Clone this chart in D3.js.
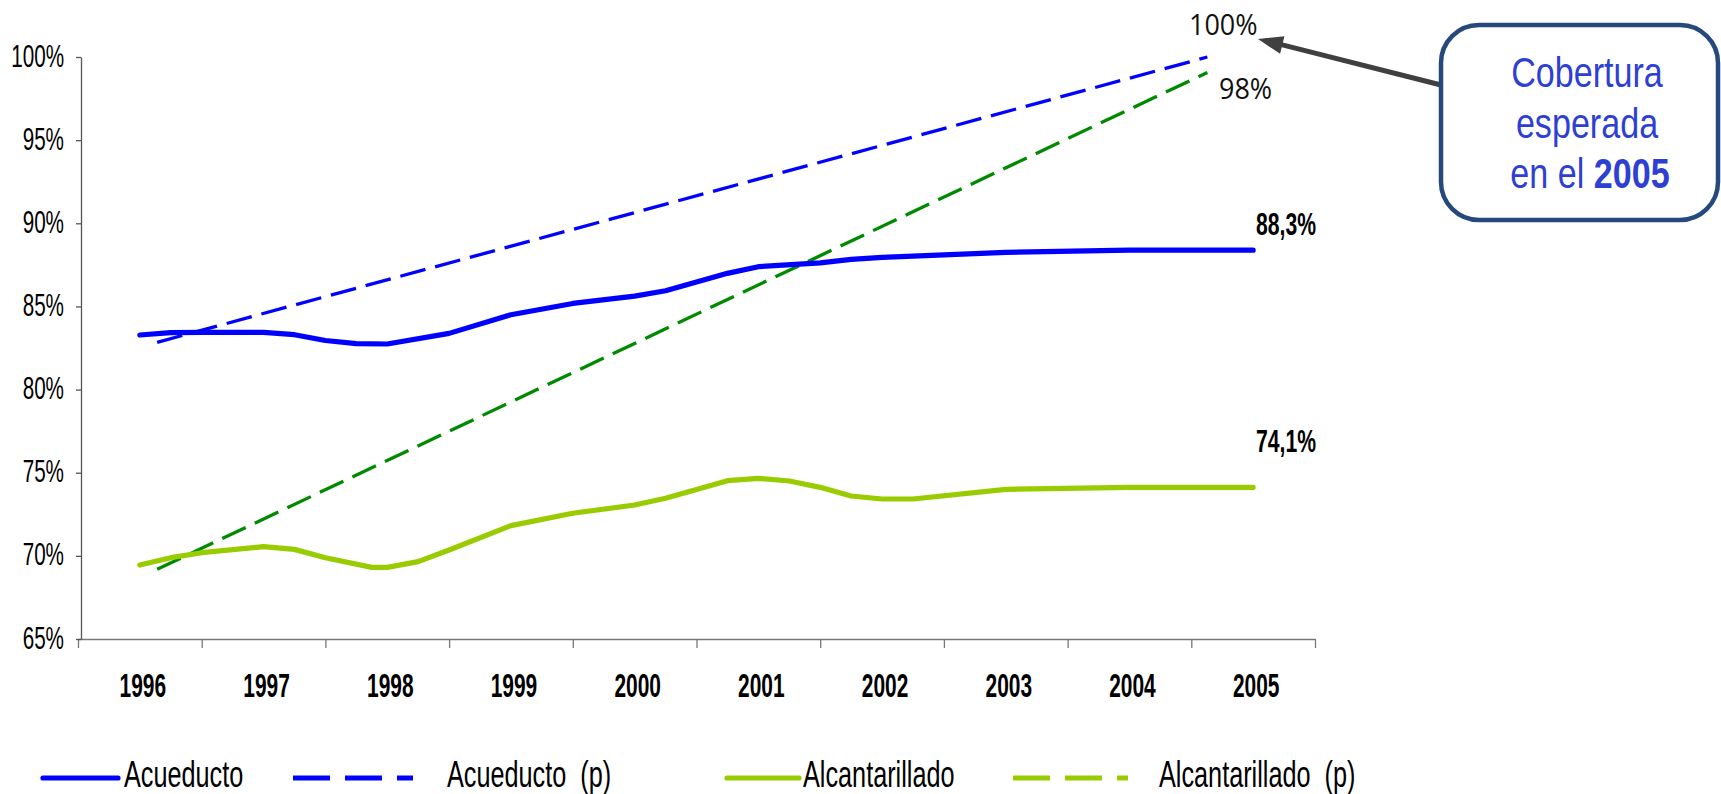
<!DOCTYPE html>
<html><head><meta charset="utf-8">
<script src="https://cdn.jsdelivr.net/npm/d3@7"></script>
<style>
html,body{margin:0;padding:0;background:#fff;}
svg{display:block;}
text{white-space:pre;}
</style></head>
<body>
<svg id="chart" width="1721" height="794"></svg>
<script>
// ---------- data ----------
const categories = ["1996","1997","1998","1999","2000","2001","2002","2003","2004","2005"];
const yTicks = [65,70,75,80,85,90,95,100];

// Acueducto (observed) – period (year fraction) and coverage %
const acueductoPeriods = [1996,1996.25,1996.5,1997,1997.25,1997.5,1997.75,1998,1998.5,1999,1999.5,2000,2000.25,2000.75,2001,2001.5,2001.75,2002,2003,2004,2005];
const acueductoValues  = [83.28,83.42,83.44,83.44,83.30,82.95,82.76,82.74,83.38,84.50,85.18,85.62,85.94,86.99,87.39,87.62,87.83,87.95,88.25,88.38,88.38];

// Alcantarillado (observed)
const alcantarilladoPeriods = [1996,1996.25,1996.5,1997,1997.25,1997.5,1997.875,1998,1998.25,1998.5,1999,1999.5,2000,2000.25,2000.75,2001,2001.25,2001.5,2001.75,2002,2002.25,2003,2004,2005];
const alcantarilladoValues  = [69.45,69.89,70.19,70.55,70.39,69.89,69.31,69.31,69.65,70.35,71.82,72.56,73.06,73.46,74.52,74.66,74.50,74.12,73.60,73.42,73.42,74.00,74.12,74.12];

// Projections (p)
const acueductoPPeriods = [1996.14, 2004.63];
const acueductoPValues  = [82.84, 100];
const alcantarilladoPPeriods = [1996.14, 2004.63];
const alcantarilladoPValues  = [69.19, 99.07];

const endLabels = ["88,3%","74,1%"];
const targetLabels = ["100%","98%"];
const legendLabels = ["Acueducto","Acueducto  (p)","Alcantarillado","Alcantarillado  (p)"];
const calloutLines = ["Cobertura","esperada"];

// ---------- setup ----------
const svg = d3.select("#chart");
const NARROW = "'Liberation Sans Narrow','Arial Narrow',Arial,sans-serif";

const probe = svg.append("text").attr("font-family", NARROW).attr("font-size",100).text("0000");
const pw = probe.node().getComputedTextLength();
probe.remove();
const SX = pw > 200 ? 0.82 : 1;

const x = d3.scaleLinear().domain([1995.5, 2005.5]).range([78, 1315]);
const band = d3.scaleBand().domain(categories).range([78, 1315]);
const y = d3.scaleLinear().domain([65, 100]).range([639, 57]);

function stext(g, tx, ty, str, opts){
  return g.append("text")
    .attr("transform", `translate(${tx},${ty}) scale(${SX*(opts.sx||1)},${opts.sy||1})`)
    .attr("font-family", opts.family || NARROW)
    .attr("font-size", opts.size)
    .attr("font-weight", opts.weight || "normal")
    .attr("fill", opts.fill || "#000")
    .attr("text-anchor", opts.anchor || "start")
    .attr("xml:space","preserve")
    .text(str);
}

// ---------- axes ----------
const boundaries = d3.range(0, categories.length + 1).map(i => 1995.5 + i);
svg.append("g").attr("transform","translate(0,639)")
  .call(d3.axisBottom(x).tickValues(boundaries).tickFormat("").tickSize(9).tickSizeOuter(0))
  .call(g => g.select(".domain").attr("stroke","#777").attr("stroke-width",1.5))
  .call(g => g.selectAll(".tick line").attr("stroke","#777").attr("stroke-width",1.3));

svg.append("g").attr("transform","translate(81,0)")
  .call(d3.axisLeft(y).tickValues(yTicks).tickFormat("").tickSize(5).tickSizeOuter(0))
  .call(g => g.select(".domain").attr("stroke","#555").attr("stroke-width",1.3))
  .call(g => g.selectAll(".tick line").attr("stroke","#555").attr("stroke-width",1.3));

const lab = svg.append("g");
yTicks.forEach(v => stext(lab, 64, y(v)+9.5, v + "%", {size:25.2, sy:1.22, anchor:"end"}));
categories.forEach(c => stext(lab, band(c)+band.bandwidth()/2+3, 696.5, c, {size:25.5, sy:1.3, weight:"bold", anchor:"middle"}));

// ---------- lines ----------
const line = d3.line().x(d => x(d[0])).y(d => y(d[1]));
const zip = (a,b) => a.map((v,i)=>[v,b[i]]);

svg.append("path").datum(zip(acueductoPPeriods, acueductoPValues))
  .attr("d", line).attr("fill","none").attr("stroke","#0000FF").attr("stroke-width",3.3).attr("stroke-dasharray","26,10");
svg.append("path").datum(zip(alcantarilladoPPeriods, alcantarilladoPValues))
  .attr("d", line).attr("fill","none").attr("stroke","#008A00").attr("stroke-width",3.3).attr("stroke-dasharray","26,10");
svg.append("path").datum(zip(alcantarilladoPeriods, alcantarilladoValues))
  .attr("d", line).attr("fill","none").attr("stroke","#99CC00").attr("stroke-width",5.2)
  .attr("stroke-linejoin","round").attr("stroke-linecap","round");
svg.append("path").datum(zip(acueductoPeriods, acueductoValues))
  .attr("d", line).attr("fill","none").attr("stroke","#0000FF").attr("stroke-width",5.2)
  .attr("stroke-linejoin","round").attr("stroke-linecap","round");

// end value labels
const lastA = acueductoValues[acueductoValues.length-1];
const lastL = alcantarilladoValues[alcantarilladoValues.length-1];
stext(svg, 1256, y(lastA)-15, endLabels[0], {size:25.8, sy:1.2, weight:"bold"});
stext(svg, 1256, y(lastL)-35, endLabels[1], {size:25.8, sy:1.2, weight:"bold"});

// target labels
const OPEN = "'Open Sans','Noto Sans',sans-serif";
svg.append("text").attr("x", 1189).attr("y", 35).attr("font-family", OPEN).attr("font-size", 27)
  .attr("transform","translate(0,-3.5) scale(1,1.1)").attr("fill","#111").text(targetLabels[0]);
svg.append("text").attr("x", 1219).attr("y", 99).attr("font-family", OPEN).attr("font-size", 27)
  .attr("transform","translate(0,-9.9) scale(1,1.1)").attr("fill","#111").text(targetLabels[1]);

// ---------- callout ----------
svg.append("line").attr("x1",1441).attr("y1",85).attr("x2",1265).attr("y2",40.5)
  .attr("stroke","#404040").attr("stroke-width",5);
(function(){
  const tip=[1258,39], tail=[1441,85];
  const dx=tail[0]-tip[0], dy=tail[1]-tip[1], L=Math.hypot(dx,dy), ux=dx/L, uy=dy/L;
  const len=25, hw=9;
  const bx=tip[0]+ux*len, by=tip[1]+uy*len;
  svg.append("path").attr("d",`M${tip[0]},${tip[1]} L${bx-uy*hw},${by+ux*hw} L${bx+uy*hw},${by-ux*hw} Z`).attr("fill","#404040");
})();
svg.append("rect").attr("x",1441).attr("y",25).attr("width",277).attr("height",195).attr("rx",38).attr("ry",38)
  .attr("fill","#fff").attr("stroke","#24497A").attr("stroke-width",4.5);
const CB = "#2E3FD3";
stext(svg, 1587, 86.5, calloutLines[0], {size:41.6, anchor:"middle", fill:CB});
stext(svg, 1587, 138.3, calloutLines[1], {size:41.6, anchor:"middle", fill:CB});
const l3 = svg.append("text").attr("transform",`translate(1590,188.3) scale(${SX},1)`)
  .attr("font-family",NARROW).attr("font-size",41.6).attr("fill",CB).attr("text-anchor","middle");
l3.append("tspan").text("en el ");
l3.append("tspan").attr("font-weight","bold").text("2005");

// ---------- legend ----------
const lg = svg.append("g");
const legendItems = [
  {x1:43, x2:118, tx:124, color:"#0000FF", dash:null},
  {x1:293, x2:413, tx:447, color:"#0000FF", dash:"37,15"},
  {x1:727, x2:799, tx:803, color:"#99CC00", dash:null},
  {x1:1013, x2:1128, tx:1159, color:"#99CC00", dash:"37,15"}
];
legendItems.forEach((it,i) => {
  lg.append("line").attr("x1",it.x1).attr("x2",it.x2).attr("y1",778).attr("y2",778)
    .attr("stroke",it.color).attr("stroke-width",5.2).attr("stroke-dasharray",it.dash)
    .attr("stroke-linecap", it.dash ? "butt" : "round");
  stext(lg, it.tx, 786.7, legendLabels[i], {size:30.8, sy:1.2});
});
</script>
</body></html>
